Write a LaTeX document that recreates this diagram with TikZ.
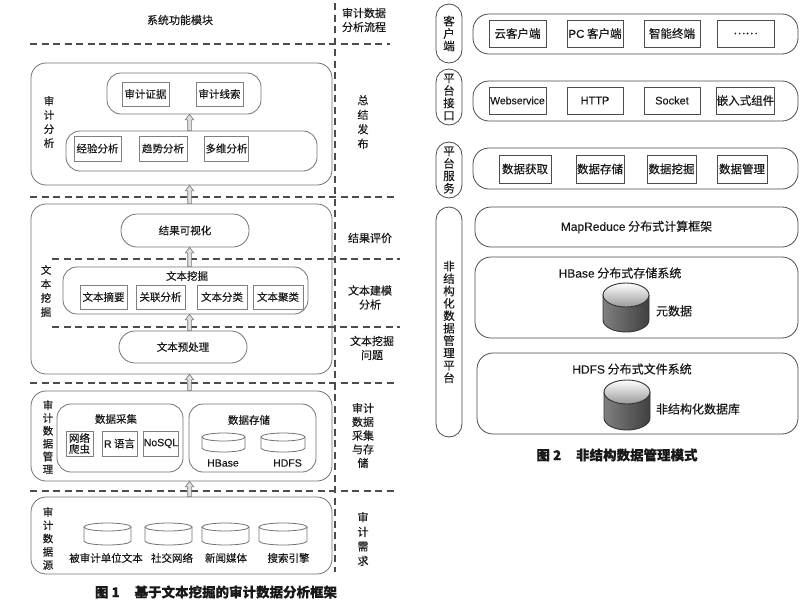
\documentclass[tikz,border=0pt]{standalone}
\usepackage{fontspec}
\setmainfont{Noto Sans CJK SC}[FakeBold=0.25]
\newfontfamily\lat{Liberation Sans}[FakeBold=0.2]
\usetikzlibrary{calc}
\newcommand\fs[2]{\fontsize{#1}{#2}\selectfont}
\tikzset{
  lline/.style={draw=black!55, line width=0.8pt},
  outerbox/.style={lline, rounded corners=15pt, inner sep=0pt},
  grpbox/.style={lline, rounded corners=14pt, inner sep=0pt},
  pillbox/.style={lline, rounded corners=16pt, inner sep=0pt, font=\fs{10.5}{12}, text=black!90},
  sqbox/.style={draw=black!50, line width=0.7pt, inner sep=0pt, font=\fs{10.5}{12}, text=black!90},
  txt/.style={inner sep=0pt, font=\fs{10.5}{12}, text=black!90},
  txtb/.style={inner sep=0pt, font=\fs{11}{14}, text=black!90, align=center},
  vlab/.style={inner sep=0pt, align=center, font=\fs{10.5}{14}, text=black!90},
  dline/.style={draw=black!70, line width=1.1pt, dash pattern=on 7pt off 4.5pt},
  harrowst/.style={draw=black!55, fill=black!12, line width=0.6pt},
  lcylst/.style={draw=black!55, line width=0.8pt},
  rowbox/.style={draw=black!70, line width=0.8pt, rounded corners=16pt, inner sep=0pt, font=\fs{12}{14}, text=black!90},
  rsq/.style={draw=black!70, line width=0.7pt, inner sep=0pt, font=\fs{11.5}{13}, text=black!90},
  sidelab/.style={draw=black!70, line width=0.8pt, rounded corners=13pt, minimum width=26pt, inner sep=0pt, align=center, font=\fs{11.5}{12.4}, text=black!90},
  scylst/.style={draw=black!80, line width=0.9pt},
  capst/.style={inner sep=0pt, font=\fs{13.5}{15}\bfseries, text=black!90},
}
\newcommand\harrow[2]{%
  \filldraw[harrowst] let \p1=(ax |- #1.north), \p2=(ax |- #2.south) in
    (\x1-1.8pt,\y1) -- (\x1-1.8pt,\y2-5.5pt) -- (\x1-4.3pt,\y2-5.5pt) -- (\x1,\y2)
    -- (\x1+4.3pt,\y2-5.5pt) -- (\x1+1.8pt,\y2-5.5pt) -- (\x1+1.8pt,\y1) -- cycle;}
\newcommand\lcyl[5]{% name, cx, cy, rx, side length
  \coordinate (#1) at (#2,#3);
  \draw[lcylst] (#2-#4,#3) -- ++(0,#5) arc[start angle=180,end angle=360,x radius=#4pt,y radius=4pt] -- ++(0,-#5);
  \draw[lcylst] (#1) ellipse[x radius=#4pt,y radius=4pt];}
\newcommand\scyl[5]{% name, cx, cy, rx, side length
  \coordinate (#1) at (#2,#3);
  \shade[left color=black!50, middle color=black!15, right color=black!75] (#2-#4,#3) -- ++(0,#5) arc[start angle=180,end angle=360,x radius=#4pt,y radius=12pt] -- ++(0,-#5) -- cycle;
  \draw[scylst] (#2-#4,#3) -- ++(0,#5) arc[start angle=180,end angle=360,x radius=#4pt,y radius=12pt] -- ++(0,-#5);
  \shade[top color=white, bottom color=black!40] (#1) ellipse[x radius=#4pt,y radius=12pt];
  \draw[scylst] (#1) ellipse[x radius=#4pt,y radius=12pt];}
\begin{document}
\begin{tikzpicture}[x=1pt,y=-1pt]
\fill[white] (0,0) rectangle (800,605);
\useasboundingbox (0,0) rectangle (800,605);
\coordinate (ax) at (189.5,0);

% ===== Figure 1 =====
\node[txt, font=\fs{11}{14}] (t1) at (180,20) {系统功能模块};
\node[txtb] (t2) at (364,20) {审计数据\\分析流程};

% dashed separators
\draw[dline] (30,44) -- (390,44);
\draw[dline] (30,197) -- (396,197);
\draw[dline] (52,259) -- (400,259);
\draw[dline] (52,327) -- (400,327);
\draw[dline] (30,383) -- (398,383);
\draw[dline] (30,491) -- (398,491);
\draw[dline] (335,3) -- (335,572);

% Box 1
\node[outerbox, minimum width=301pt, minimum height=122pt] (b1) at (181.5,124) {};
\node[grpbox, minimum width=154pt, minimum height=41pt] (g1a) at (184,93.5) {};
\node[sqbox, minimum width=47pt, minimum height=24pt] (e1) at (145.5,94) {审计证据};
\node[sqbox, minimum width=47pt, minimum height=24pt] (e2) at (219.5,94) {审计线索};
\node[grpbox, minimum width=251pt, minimum height=40pt] (g1b) at (191.5,151) {};
\node[sqbox, minimum width=47pt, minimum height=25pt] (a1) at (97.5,148.5) {经验分析};
\node[sqbox, minimum width=48pt, minimum height=25pt] (a2) at (163,148.5) {趋势分析};
\node[sqbox, minimum width=44pt, minimum height=25pt] (a3) at (226.5,148.5) {多维分析};
\node[vlab] (l1) at (49,122) {审\\计\\分\\析};

% Box 2
\node[outerbox, minimum width=301pt, minimum height=170pt] (b2) at (181.5,289) {};
\node[pillbox, minimum width=128pt, minimum height=33pt] (vis) at (185,230.5) {结果可视化};
\node[grpbox, minimum width=245pt, minimum height=47pt] (g2) at (185.5,290.5) {};
\node[txt] (g2t) at (187,276) {文本挖掘};
\node[sqbox, minimum width=47pt, minimum height=24pt] (m1) at (103.5,297) {文本摘要};
\node[sqbox, minimum width=49pt, minimum height=24pt] (m2) at (160.5,297) {关联分析};
\node[sqbox, minimum width=50pt, minimum height=24pt] (m3) at (222,297) {文本分类};
\node[sqbox, minimum width=50pt, minimum height=24pt] (m4) at (278,297) {文本聚类};
\node[pillbox, minimum width=128pt, minimum height=32pt] (pre) at (183,347) {文本预处理};
\node[vlab] (l2) at (46,291) {文\\本\\挖\\掘};

% Box 3
\node[outerbox, minimum width=301pt, minimum height=90pt] (b3) at (181.5,436) {};
\node[grpbox, minimum width=126pt, minimum height=68pt] (g3a) at (120,438) {};
\node[txt] (g3at) at (116,419) {数据采集};
\node[sqbox, minimum width=27pt, minimum height=25pt, align=center, font=\fs{10.5}{11}] (c1) at (79.5,443.5) {网络\\爬虫};
\node[sqbox, minimum width=35pt, minimum height=25pt] (c2) at (119.5,443.5) {{\lat R} 语言};
\node[sqbox, minimum width=34pt, minimum height=25pt] (c3) at (161,443.5) {\lat NoSQL};
\node[grpbox, minimum width=127pt, minimum height=68pt] (g3b) at (252.5,438) {};
\node[txt] (g3bt) at (249,420) {数据存储};
\lcyl{cy1}{223.5}{437}{21.5}{11}
\lcyl{cy2}{283}{437}{22}{11}
\node[txt] (hb) at (223,463) {\lat HBase};
\node[txt] (hd) at (287.5,463) {\lat HDFS};
\node[vlab, font=\fs{10.5}{12.8}] (l3) at (48,437) {审\\计\\数\\据\\管\\理};

% Box 4
\node[outerbox, minimum width=301pt, minimum height=77pt] (b4) at (181.5,535.5) {};
\lcyl{ds1}{107.5}{527}{23.5}{14}
\lcyl{ds2}{168.5}{527}{23.5}{14}
\lcyl{ds3}{225.5}{527}{23.5}{14}
\lcyl{ds4}{283}{527}{24}{14}
\node[txt] (dl1) at (106,558) {被审计单位文本};
\node[txt] (dl2) at (172,558) {社交网络};
\node[txt] (dl3) at (226,558) {新闻媒体};
\node[txt] (dl4) at (288.5,558) {搜索引擎};
\node[vlab, font=\fs{10.5}{13.2}] (l4) at (48,538.5) {审\\计\\数\\据\\源};

% process column
\node[vlab, font=\fs{11}{14.5}] (r1) at (363,122) {总\\结\\发\\布};
\node[txtb] (r2) at (370,238) {结果评价};
\node[txtb] (r3) at (370,297.5) {文本建模\\分析};
\node[txtb] (r4) at (372,348) {文本挖掘\\问题};
\node[vlab, font=\fs{11}{13.7}] (r5) at (363,435.5) {审计\\数据\\采集\\与存\\储};
\node[vlab, font=\fs{11}{14.5}] (r6) at (363,539) {审\\计\\需\\求};

% arrows
\harrow{g1b}{g1a}
\harrow{b2}{b1}
\harrow{g2}{vis}
\harrow{pre}{g2}
\harrow{b3}{b2}
\harrow{b4}{b3}

\node[capst] (cap1) at (216,592) {图 1\hspace{1.1em}基于文本挖掘的审计数据分析框架};

% ===== Figure 2 =====
\node[sidelab, minimum height=59pt] (s1) at (449,33.5) {客\\户\\端};
\node[sidelab, minimum height=56pt] (s2) at (449,97) {平\\台\\接\\口};
\node[sidelab, minimum height=56pt] (s3) at (449,170) {平\\台\\服\\务};
\node[sidelab, minimum height=230pt] (s4) at (449,322) {非\\结\\构\\化\\数\\据\\管\\理\\平\\台};

\node[rowbox, minimum width=325pt, minimum height=40pt] (rw1) at (635.5,34) {};
\node[rsq, minimum width=57pt, minimum height=27pt] (k1) at (517.5,33.5) {云客户端};
\node[rsq, minimum width=56pt, minimum height=27pt] (k2) at (595,33.5) {{\lat PC} 客户端};
\node[rsq, minimum width=56pt, minimum height=27pt] (k3) at (672,33.5) {智能终端};
\node[rsq, minimum width=57pt, minimum height=27pt] (k4) at (745.5,33.5) {……};

\node[rowbox, minimum width=325pt, minimum height=40pt] (rw2) at (635.5,101) {};
\node[rsq, minimum width=57pt, minimum height=27pt, font=\fs{10.5}{12}\lat] (p1) at (517.5,100.5) {Webservice};
\node[rsq, minimum width=56pt, minimum height=27pt, font=\fs{11}{12}\lat] (p2) at (595,100.5) {HTTP};
\node[rsq, minimum width=56pt, minimum height=27pt, font=\fs{11}{12}\lat] (p3) at (672,100.5) {Socket};
\node[rsq, minimum width=57pt, minimum height=27pt] (p4) at (745.5,100.5) {嵌入式组件};

\node[rowbox, minimum width=325pt, minimum height=41pt] (rw3) at (635.5,168.5) {};
\node[rsq, minimum width=52pt, minimum height=28pt] (v1) at (525,169) {数据获取};
\node[rsq, minimum width=48pt, minimum height=28pt] (v2) at (600,169) {数据存储};
\node[rsq, minimum width=49pt, minimum height=28pt] (v3) at (671.5,169) {数据挖掘};
\node[rsq, minimum width=50pt, minimum height=28pt] (v4) at (742,169) {数据管理};

\node[rowbox, minimum width=323pt, minimum height=40pt] (mr) at (636.5,227) {{\lat MapReduce} 分布式计算框架};

\node[rowbox, minimum width=323pt, minimum height=81pt] (hbx) at (636.5,297.5) {};
\node[txt, font=\fs{12}{14}] (hbt) at (620,273) {{\lat HBase} 分布式存储系统};
\scyl{hcyl}{626}{295}{23}{25}
\node[txt, font=\fs{12}{14}] (meta) at (674,311) {元数据};

\node[rowbox, minimum width=321pt, minimum height=81pt] (hdx) at (637.5,393.5) {};
\node[txt, font=\fs{12}{14}] (hdt) at (632,369) {{\lat HDFS} 分布式文件系统};
\scyl{dcyl}{627}{392}{23}{26}
\node[txt, font=\fs{12}{14}] (udb) at (698,409) {非结构化数据库};

\node[capst] (cap2) at (617,455) {图 2\hspace{1.1em}非结构数据管理模式};
\end{tikzpicture}
\end{document}
